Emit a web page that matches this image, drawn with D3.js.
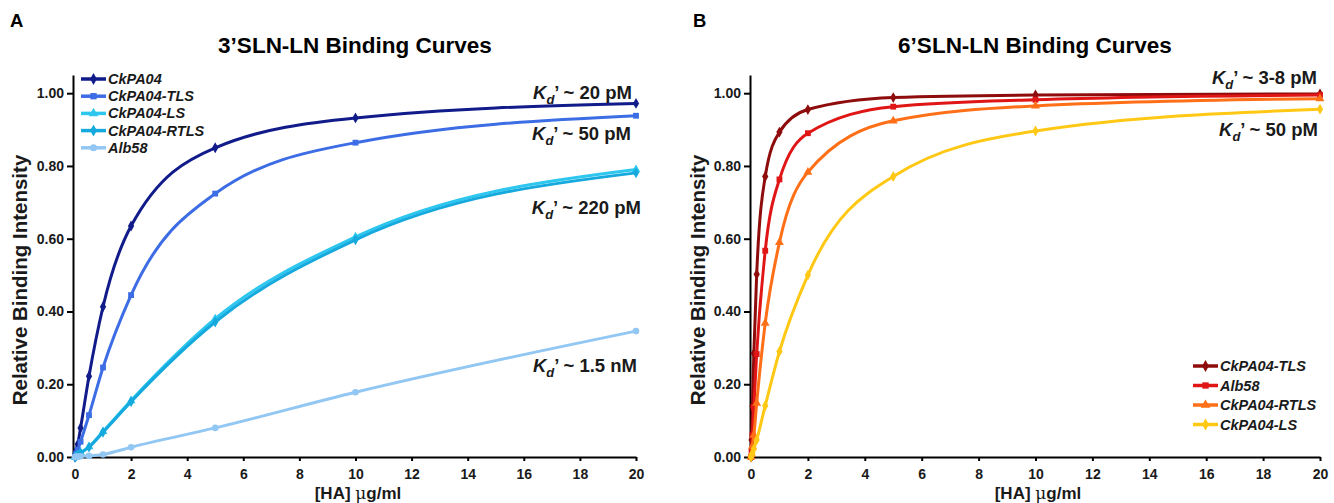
<!DOCTYPE html>
<html lang="en">
<head>
    <meta charset="UTF-8">
    <title>SLN-LN Binding Curves</title>
    <script src="https://cdn.jsdelivr.net/npm/d3@7"></script>
    <style>
        body {
            margin: 0;
            background: #fff;
            font-family: "Liberation Sans", Arial, sans-serif;
        }
        .axis path, .axis line {
            stroke: #000;
            stroke-width: 2;
        }
        .axis text {
            font-family: "Liberation Sans", Arial, sans-serif;
            font-weight: bold;
            font-size: 14px;
            fill: #1a1a1a;
        }
        .curve {
            fill: none;
            stroke-width: 3;
        }
    </style>
</head>
<body>
<svg id="fig" width="1334" height="503"></svg>
<script>
    // HA concentrations (ug/ml) of the titration
    const conc = [0, 0.02, 0.05, 0.1, 0.2, 0.5, 1, 2, 5, 10, 20];

    // panel A: 3'SLN-LN
    const seriesA = ["CkPA04", "CkPA04-TLS", "CkPA04-LS", "CkPA04-RTLS", "Alb58"];
    const ckpa04A = [0, 0.008, 0.018, 0.035, 0.08, 0.222, 0.413, 0.635, 0.85, 0.932, 0.972];
    const tlsA    = [0, 0.004, 0.01, 0.02, 0.042, 0.115, 0.246, 0.445, 0.724, 0.864, 0.938];
    const lsA     = [0, 0.001, 0.003, 0.006, 0.012, 0.028, 0.07, 0.155, 0.38, 0.605, 0.79];
    const rtlsA   = [0, 0.001, 0.003, 0.006, 0.011, 0.027, 0.068, 0.152, 0.371, 0.597, 0.781];
    const alb58A  = [0, 0, 0.001, 0.001, 0.002, 0.003, 0.007, 0.027, 0.08, 0.178, 0.346];

    // panel B: 6'SLN-LN
    const seriesB = ["CkPA04-TLS", "Alb58", "CkPA04-RTLS", "CkPA04-LS"];
    const tlsB    = [0, 0.047, 0.14, 0.285, 0.502, 0.771, 0.893, 0.955, 0.988, 0.995, 0.998];
    const alb58B  = [0, 0.015, 0.06, 0.136, 0.283, 0.567, 0.763, 0.89, 0.963, 0.982, 0.995];
    const rtlsB   = [0, 0.008, 0.03, 0.06, 0.148, 0.368, 0.59, 0.783, 0.924, 0.965, 0.985];
    const lsB     = [0, 0.004, 0.01, 0.022, 0.047, 0.141, 0.29, 0.5, 0.771, 0.896, 0.956];

    const xTicks = [0, 2, 4, 6, 8, 10, 12, 14, 16, 18, 20];
    const yTicks = [0, 0.2, 0.4, 0.6, 0.8, 1.0];

    const svg = d3.select("#fig");

    function drawPanel(p) {
        const x = d3.scaleLinear().domain(p.xDomain).range(p.xRange);
        const y = d3.scaleLinear().domain([0, 1.05]).range([457, 75]);
        const g = svg.append("g");

        // axes
        g.append("g").attr("class", "axis")
            .attr("transform", `translate(0,${y(0)})`)
            .call(d3.axisBottom(x).tickValues(xTicks).tickSize(4).tickSizeOuter(0).tickPadding(8));
        g.append("g").attr("class", "axis")
            .attr("transform", `translate(${x.range()[0]},0)`)
            .call(d3.axisLeft(y).tickValues(yTicks).tickFormat(d3.format(".2f"))
                .tickSize(6).tickSizeOuter(0).tickPadding(3));

        const line = d3.line()
            .x((d, i) => x(conc[i]))
            .y(d => y(d))
            .curve(d3.curveMonotoneX);

        p.series.forEach(s => {
            g.append("path").attr("class", "curve")
                .attr("d", line(s.values))
                .attr("stroke", s.color);
            g.selectAll(null).data(s.values).enter()
                .append("path")
                .attr("transform", (d, i) => `translate(${x(conc[i])},${y(d)})`)
                .attr("d", d3.symbol().type(s.symbol).size(34))
                .attr("fill", s.color);
        });

        // titles and labels
        g.append("text").attr("x", p.letterX).attr("y", 27)
            .attr("font-size", 18.5).attr("font-weight", "bold").text(p.letter);
        g.append("text").attr("x", p.titleX).attr("y", 53)
            .attr("text-anchor", "middle").attr("font-size", 22.5)
            .attr("font-weight", "bold").text(p.title);
        g.append("text")
            .attr("transform", `translate(${p.yLabelX},280) rotate(-90)`)
            .attr("text-anchor", "middle").attr("font-size", 20.5)
            .attr("font-weight", "bold").attr("fill", "#1a1a1a")
            .text("Relative Binding Intensity");
        const xl = g.append("text").attr("x", p.titleX + 3).attr("y", 499)
            .attr("text-anchor", "middle").attr("font-size", 17)
            .attr("font-weight", "bold").attr("fill", "#1a1a1a");
        xl.append("tspan").text("[HA] ");
        xl.append("tspan").attr("font-weight", "normal").attr("font-family", "DejaVu Serif").text("\u03bc");
        xl.append("tspan").text("g/ml");

        // Kd' annotations
        p.notes.forEach(n => {
            const t = g.append("text").attr("x", n.x).attr("y", n.y)
                .attr("text-anchor", "end").attr("font-size", 18.5)
                .attr("font-weight", "bold").attr("fill", "#1a1a1a");
            t.append("tspan").attr("font-style", "italic").text("K");
            t.append("tspan").attr("font-style", "italic").attr("font-size", 13).attr("dy", 5).text("d");
            t.append("tspan").attr("dy", -5).text("\u2019 ~ " + n.text);
        });

        // legend
        p.series.forEach((s, i) => {
            const ly = p.legendY + i * p.legendStep;
            const lg = g.append("g");
            lg.append("line")
                .attr("x1", p.legendX).attr("x2", p.legendX + 25)
                .attr("y1", ly).attr("y2", ly)
                .attr("stroke", s.color).attr("stroke-width", 3.5);
            lg.append("path")
                .attr("transform", `translate(${p.legendX + 12.5},${ly})`)
                .attr("d", d3.symbol().type(s.symbol).size(40))
                .attr("fill", s.color);
            lg.append("text")
                .attr("x", p.legendX + 27).attr("y", ly + 5)
                .attr("font-size", 14.5).attr("font-weight", "bold")
                .attr("font-style", "italic").attr("fill", "#1a1a1a")
                .text(s.name);
        });
    }

    drawPanel({
        letter: "A", letterX: 10,
        title: "3\u2019SLN-LN Binding Curves", titleX: 355,
        yLabelX: 27,
        xDomain: [-0.07, 20], xRange: [73, 636],
        legendX: 81, legendY: 79, legendStep: 17.2,
        series: [
            { name: seriesA[0], values: ckpa04A, color: "#111c8a", symbol: d3.symbolDiamond },
            { name: seriesA[1], values: tlsA, color: "#3d6de4", symbol: d3.symbolSquare },
            { name: seriesA[2], values: lsA, color: "#2cc6ef", symbol: d3.symbolTriangle },
            { name: seriesA[3], values: rtlsA, color: "#16a9de", symbol: d3.symbolDiamond },
            { name: seriesA[4], values: alb58A, color: "#93c7f3", symbol: d3.symbolCircle }
        ],
        notes: [
            { x: 632, y: 99, text: "20 pM" },
            { x: 631, y: 140, text: "50 pM" },
            { x: 641, y: 214, text: "220 pM" },
            { x: 637, y: 372, text: "1.5 nM" }
        ]
    });

    drawPanel({
        letter: "B", letterX: 693,
        title: "6\u2019SLN-LN Binding Curves", titleX: 1035,
        yLabelX: 705,
        xDomain: [-0.035, 20], xRange: [750, 1320],
        legendX: 1193, legendY: 366, legendStep: 19.5,
        series: [
            { name: seriesB[0], values: tlsB, color: "#8e0c0c", symbol: d3.symbolDiamond },
            { name: seriesB[1], values: alb58B, color: "#e01616", symbol: d3.symbolSquare },
            { name: seriesB[2], values: rtlsB, color: "#ff6f17", symbol: d3.symbolTriangle },
            { name: seriesB[3], values: lsB, color: "#ffc815", symbol: d3.symbolDiamond }
        ],
        notes: [
            { x: 1317, y: 84, text: "3-8 pM" },
            { x: 1318, y: 136, text: "50 pM" }
        ]
    });
</script>
</body>
</html>
